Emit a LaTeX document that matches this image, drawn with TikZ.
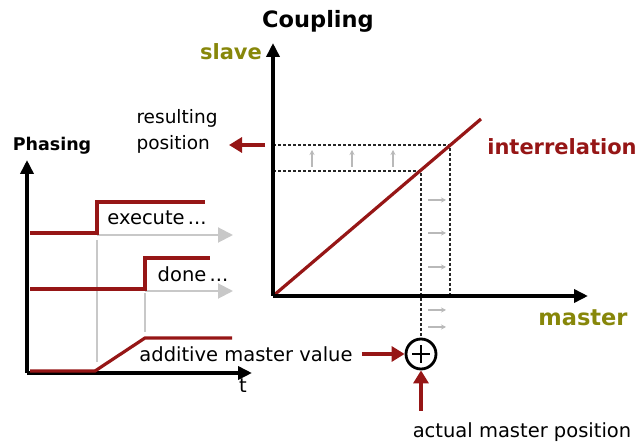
\documentclass[tikz,border=0pt]{standalone}
\usepackage{fontspec}
\setmainfont{DejaVu Sans}
\usetikzlibrary{arrows.meta}
\definecolor{darkred}{RGB}{150,22,22}
\definecolor{slaveolive}{RGB}{135,135,10}
\definecolor{lightgr}{RGB}{200,200,200}
\tikzset{
  axis/.style={line width=3.5pt, black, -{Triangle[length=14pt,width=13pt]}},
  redline/.style={line width=3.2pt, darkred},
  redarrow/.style={line width=3.4pt, darkred, -{Triangle[length=13pt,width=15pt]}},
  guide/.style={dash pattern=on 3pt off 2pt, line width=1.2pt, black!85},
  tickarrow/.style={gray!55, line width=1.1pt, -{Stealth[length=5pt,width=5pt]}},
  flow/.style={lightgr, line width=2pt, -{Triangle[length=15pt,width=15pt]}},
  vguide/.style={lightgr, line width=1.4pt},
  lbl/.style={inner sep=0pt, font=\fontsize{19.5}{27}\selectfont},
  title/.style={inner sep=0pt, font=\fontsize{22.5}{24}\selectfont\bfseries},
  plusbox/.style={circle, draw, line width=2.8pt, minimum size=30pt, inner sep=0pt}
}
\begin{document}
\begin{tikzpicture}[x=1pt,y=-1pt]
\useasboundingbox (0,0) rectangle (641,443);
% ---------- Coupling ----------
\coordinate (O) at (273,296);
\coordinate (Ytip) at (273,43);
\coordinate (Xtip) at (588,296);
\coordinate (R) at (481,119);
\coordinate (P1) at (450,145);
\coordinate (P2) at (421,171);
\coordinate (Y1) at (273,145);
\coordinate (Y2) at (273,171);
\coordinate (X1) at (450,296);
\coordinate (X2) at (421,336);
% guides
\draw[guide] (Y1) -- (P1) -- (X1);
\draw[guide] (Y2) -- (P2) -- (X2);
% small arrows
\foreach \x/\n in {312/a,352/b,393/c}{
  \coordinate (u\n s) at (\x,167); \coordinate (u\n e) at (\x,150);
  \draw[tickarrow] (u\n s) -- (u\n e);
}
\foreach \y/\n in {200/a,233/b,267/c,310/d,327/e}{
  \coordinate (r\n s) at (428,\y); \coordinate (r\n e) at (446,\y);
  \draw[tickarrow] (r\n s) -- (r\n e);
}
\draw[redline] (O) -- (R);
\draw[axis] (O) -- (Ytip);
\draw[axis] (O) -- (Xtip);
\node[title] (coupling) at (318,21) {Coupling};
\node[title, font=\fontsize{21}{24}\selectfont\bfseries, text=slaveolive] (slave) at (231,52) {slave};
\node[title, text=slaveolive] (master) at (583,318) {master};
\node[title, font=\fontsize{21}{24}\selectfont\bfseries, text=darkred] (interrel) at (562,147) {interrelation};
\node[lbl, font=\fontsize{18.5}{26}\selectfont, align=left] (resulting) at (177,131) {resulting\\position};
\coordinate (rs) at (265,145);
\coordinate (re) at (229,145);
\draw[redarrow] (rs) -- (re);
% adder
\node[plusbox] (plus) at (421,354) {};
\draw[line width=2.6pt] ([xshift=-9pt]plus.center) -- ([xshift=9pt]plus.center);
\draw[line width=2.6pt] ([yshift=-9pt]plus.center) -- ([yshift=9pt]plus.center);
\node[lbl] (addval) at (246,354) {additive master value};
\draw[redarrow] ([xshift=9pt]addval.east) -- (plus.west);
\node[lbl] (actual) at (522,432) {actual master position};
\coordinate (as) at (421,411);
\draw[redarrow] (as) -- (plus.south);
% ---------- Phasing ----------
\coordinate (PO) at (27,373);
\coordinate (PYtip) at (27,160);
\coordinate (PXtip) at (252,373);
\node[inner sep=0pt, font=\fontsize{17.5}{20}\selectfont\bfseries] (phasing) at (52,146) {Phasing};
\node[lbl] (t) at (243,386) {t};
% gray guides
\coordinate (g1s) at (97,240); \coordinate (g1e) at (97,362);
\coordinate (g2s) at (145,293); \coordinate (g2e) at (145,332);
\draw[vguide] (g1s) -- (g1e);
\draw[vguide] (g2s) -- (g2e);
% flow arrows
\coordinate (f1s) at (97,235); \coordinate (f1e) at (233,235);
\coordinate (f2s) at (145,291); \coordinate (f2e) at (233,291);
\draw[flow] (f1s) -- (f1e);
\draw[flow] (f2s) -- (f2e);
% signals
\draw[redline] (30,233) -- (97,233) -- (97,202) -- (205,202);
\draw[redline] (30,289) -- (145,289) -- (145,258) -- (210,258);
\draw[axis] (PO) -- (PYtip);
\draw[axis] (PO) -- (PXtip);
\draw[redline] (30,371) -- (95,371) -- (145,338) -- (232,338);
\node[lbl] (execute) at (157,218) {execute\,...};
\node[lbl] (done) at (193,274) {done\,...};
\end{tikzpicture}
\end{document}
